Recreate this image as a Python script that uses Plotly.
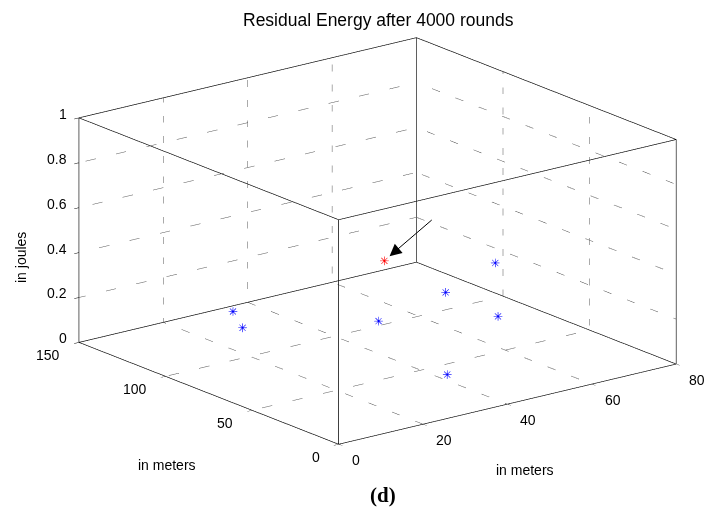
import plotly.graph_objects as go

# ---- data ----
X_RANGE = [0, 80]
Y_RANGE = [0, 150]
Z_RANGE = [0, 1]
X_TICKS = [0, 20, 40, 60, 80]
Y_TICKS = [0, 50, 100, 150]
Z_TICKS = [0, 0.2, 0.4, 0.6, 0.8, 1]
X_TICK_LABELS = ["0", "20", "40", "60", "80"]
Y_TICK_LABELS = ["0", "50", "100", "150"]
Z_TICK_LABELS = ["0", "0.2", "0.4", "0.6", "0.8", "1"]

node_x = [21.7, 17.0, 39.6, 60.3, 59.0, 29.6, 78.7]
node_y = [114.0, 97.0, 73.5, 85.2, 51.8, 9.5, 101.4]
node_z = [0.15, 0.15, 0.15, 0.15, 0.15, 0.15, 0.15]

sink_x = [42.0]
sink_y = [76.0]
sink_z = [0.4]

TITLE = "Residual Energy after 4000 rounds"

# ---- helpers ----
def segs(pairs):
    xs, ys, zs = [], [], []
    for a, b in pairs:
        xs += [a[0], b[0], None]
        ys += [a[1], b[1], None]
        zs += [a[2], b[2], None]
    return xs, ys, zs

x0, x1 = X_RANGE
y0, y1 = Y_RANGE
z0, z1 = Z_RANGE

box_pairs = []
for z in (z0, z1):
    box_pairs += [((x0, y0, z), (x1, y0, z)), ((x1, y0, z), (x1, y1, z)),
                  ((x1, y1, z), (x0, y1, z)), ((x0, y1, z), (x0, y0, z))]
for x in (x0, x1):
    for y in (y0, y1):
        box_pairs.append(((x, y, z0), (x, y, z1)))

grid_pairs = []
for xt in X_TICKS[1:-1]:
    grid_pairs.append(((xt, y0, z0), (xt, y1, z0)))
    grid_pairs.append(((xt, y1, z0), (xt, y1, z1)))
for yt in Y_TICKS[1:-1]:
    grid_pairs.append(((x0, yt, z0), (x1, yt, z0)))
    grid_pairs.append(((x1, yt, z0), (x1, yt, z1)))
for zt in Z_TICKS[1:-1]:
    grid_pairs.append(((x0, y1, zt), (x1, y1, zt)))
    grid_pairs.append(((x1, y0, zt), (x1, y1, zt)))

fig = go.Figure()

gx, gy, gz = segs(grid_pairs)
fig.add_trace(go.Scatter3d(x=gx, y=gy, z=gz, mode="lines",
                           line=dict(color="#555555", width=1, dash="dot"),
                           hoverinfo="skip", showlegend=False))
bx, by, bz = segs(box_pairs)
fig.add_trace(go.Scatter3d(x=bx, y=by, z=bz, mode="lines",
                           line=dict(color="black", width=1.3),
                           hoverinfo="skip", showlegend=False))

star_font = "DejaVu Sans, sans-serif"
fig.add_trace(go.Scatter3d(x=node_x, y=node_y, z=node_z, mode="text",
                           text=["\u2733"] * len(node_x), textposition="middle center",
                           textfont=dict(family=star_font, size=12, color="#0000ff"),
                           hoverinfo="skip", showlegend=False))
fig.add_trace(go.Scatter3d(x=sink_x, y=sink_y, z=sink_z, mode="text",
                           text=["\u2733"], textposition="middle center",
                           textfont=dict(family=star_font, size=12, color="#ff0000"),
                           hoverinfo="skip", showlegend=False))

tick_font = dict(family="Liberation Sans, Arial, sans-serif", size=14, color="black")

def axis(rng, tv):
    return dict(range=rng, tickvals=tv, showticklabels=False, showgrid=False,
                showbackground=False, showline=False, zeroline=False, ticks="outside",
                ticklen=6, tickcolor="black", tickwidth=1, showspikes=False,
                title=dict(text=""), autorange=False)

# tick labels anchored to the tick positions of each axis (MATLAB-style placement)
scene_ann = []
for v, t in zip(X_TICKS, X_TICK_LABELS):
    scene_ann.append(dict(x=v, y=y0, z=z0, text=t, showarrow=False, font=tick_font,
                          xanchor="left", yanchor="middle", xshift=11, yshift=-16))
for v, t in zip(Y_TICKS, Y_TICK_LABELS):
    scene_ann.append(dict(x=x0, y=v, z=z0, text=t, showarrow=False, font=tick_font,
                          xanchor="right", yanchor="middle", xshift=-17, yshift=-13))
for v, t in zip(Z_TICKS, Z_TICK_LABELS):
    scene_ann.append(dict(x=x0, y=y1, z=v, text=t, showarrow=False, font=tick_font,
                          xanchor="right", yanchor="middle", xshift=-10, yshift=4))
scene_ann.append(dict(x=sink_x[0], y=sink_y[0], z=sink_z[0], text="", showarrow=True,
                      ax=49, ay=-42, arrowhead=2, arrowsize=2.4, arrowwidth=1,
                      arrowcolor="black", standoff=7))

# camera: orthographic view direction, shifted look-at point to place the box
direction = (-0.5849, -0.7515, 0.3053)
dist = 2.0
scale = 1.645
screen_right = (0.789, -0.614, 0.0)
screen_up = (0.1875, 0.241, 0.952)
px_per_unit = 426.6 / scale
shift_right, shift_up = 25.0, 19.0
center = [(-shift_right * screen_right[i] - shift_up * screen_up[i]) / px_per_unit for i in range(3)]
eye = [center[i] + direction[i] * dist for i in range(3)]

ann_font = dict(family="Liberation Sans, Arial, sans-serif", size=14, color="black")

def label(text, px, py, font, **kw):
    return dict(text=text, x=px / 705, y=1 - py / 520, xref="paper", yref="paper",
                xanchor="center", yanchor="middle", showarrow=False, font=font, **kw)

fig.update_layout(
    width=705, height=520,
    margin=dict(l=0, r=0, t=0, b=0),
    paper_bgcolor="white",
    plot_bgcolor="white",
    showlegend=False,
    scene=dict(
        domain=dict(x=[0.0, 1.0], y=[0.0, 1.0]),
        xaxis=axis(X_RANGE, X_TICKS),
        yaxis=axis(Y_RANGE, Y_TICKS),
        zaxis=axis(Z_RANGE, Z_TICKS),
        aspectmode="manual",
        aspectratio=dict(x=1 * scale, y=0.9885 * scale, z=0.5513 * scale),
        camera=dict(eye=dict(x=eye[0], y=eye[1], z=eye[2]),
                    up=dict(x=0, y=0, z=1),
                    center=dict(x=center[0], y=center[1], z=center[2]),
                    projection=dict(type="orthographic")),
        annotations=scene_ann,
    ),
    annotations=[
        label(TITLE, 378, 20, dict(family="Liberation Sans, Arial, sans-serif", size=17.5, color="black")),
        label("in meters", 525, 470, ann_font),
        label("in meters", 167, 465, ann_font),
        label("in joules", 21, 258, ann_font, textangle=-90),
        label("<b>(d)</b>", 383, 495, dict(family="Liberation Serif, Times New Roman, serif", size=21, color="black")),
    ],
)

fig.write_html("out.html", config={"displayModeBar": False},
               post_script="document.body.style.margin='0px';")
